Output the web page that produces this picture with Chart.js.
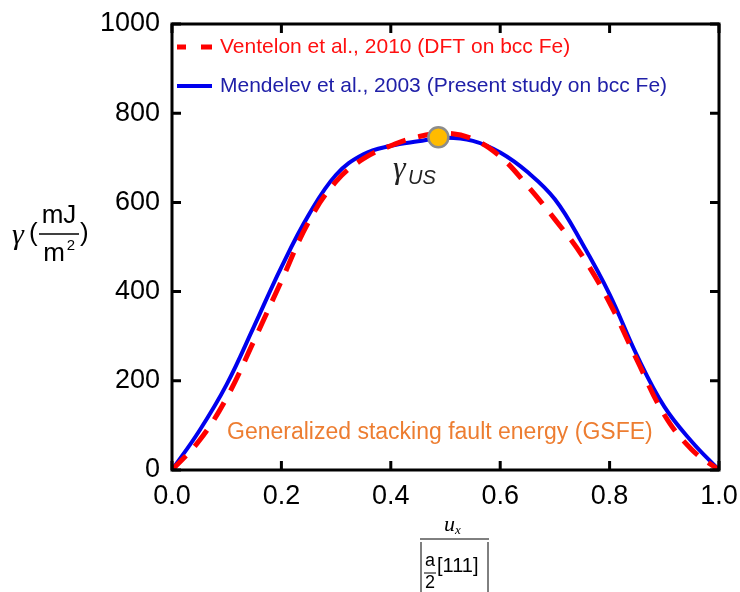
<!DOCTYPE html>
<html>
<head>
<meta charset="utf-8">
<script src="https://cdn.jsdelivr.net/npm/chart.js@4.4.0/dist/chart.umd.min.js"></script>
<style>
  html, body { margin: 0; padding: 0; background: #fff; }
  #wrap { width: 740px; height: 592px; }
</style>
</head>
<body>
<div id="wrap"><canvas id="gsfeChart"></canvas></div>
<script>
// displacement u_x / |a/2[111]|
const disp = [0, 0.05, 0.1, 0.15, 0.2, 0.25, 0.3, 0.35, 0.4, 0.45, 0.5,
              0.55, 0.6, 0.65, 0.7, 0.75, 0.8, 0.85, 0.9, 0.95, 1.0];
// Ventelon et al., 2010 (DFT) - mJ/m^2
const ventelon = [0, 66, 162, 290, 424, 557, 647, 698, 727, 747, 755,
                  742, 703, 637, 562, 480, 375, 247, 124, 46, 0];
// Mendelev et al., 2003 - mJ/m^2
const mendelev = [0, 88, 192, 322, 455, 572, 662, 708, 727, 737, 745,
                  738, 712, 668, 607, 508, 394, 257, 142, 64, 0];
// unstable stacking fault energy point
const usPoint = [{ x: 0.487, y: 746 }];
const xTicks = [0, 0.2, 0.4, 0.6, 0.8, 1.0];
const yTicks = [0, 200, 400, 600, 800, 1000];

const FONT = '"Liberation Sans", Arial, sans-serif';
const SERIF = '"Liberation Serif", "Times New Roman", serif';

function toXY(ys) {
    return disp.map((x, i) => ({ x: x, y: ys[i] }));
}

// frame, inward ticks, legend and labels
const decorPlugin = {
    id: 'decor',
    afterDraw(chart) {
        const ctx = chart.ctx;
        const a = chart.chartArea;
        const xs = chart.scales.x, ys = chart.scales.y;
        ctx.save();
        ctx.strokeStyle = '#000';
        ctx.lineWidth = 3;
        ctx.strokeRect(a.left, a.top, a.right - a.left, a.bottom - a.top);
        ctx.beginPath();
        xTicks.forEach(v => {
            const px = xs.getPixelForValue(v);
            ctx.moveTo(px, a.bottom); ctx.lineTo(px, a.bottom - 9);
            ctx.moveTo(px, a.top); ctx.lineTo(px, a.top + 9);
        });
        yTicks.forEach(v => {
            const py = ys.getPixelForValue(v);
            ctx.moveTo(a.left, py); ctx.lineTo(a.left + 9, py);
            ctx.moveTo(a.right, py); ctx.lineTo(a.right - 9, py);
        });
        ctx.stroke();

        // legend
        ctx.lineCap = 'butt';
        ctx.lineWidth = 5;
        ctx.strokeStyle = '#ff0000';
        ctx.beginPath();
        ctx.moveTo(177, 47); ctx.lineTo(186, 47);
        ctx.moveTo(201, 47); ctx.lineTo(212, 47);
        ctx.stroke();
        ctx.strokeStyle = '#0000ee';
        ctx.lineWidth = 4;
        ctx.beginPath();
        ctx.moveTo(177, 86); ctx.lineTo(212, 86);
        ctx.stroke();
        ctx.font = '21px ' + FONT;
        ctx.textBaseline = 'middle';
        ctx.textAlign = 'left';
        ctx.fillStyle = '#ff1010';
        ctx.fillText(chart.data.datasets[0].label, 220, 47);
        ctx.fillStyle = '#2020a8';
        ctx.fillText(chart.data.datasets[1].label, 220, 86);

        // GSFE note
        ctx.font = '23px ' + FONT;
        ctx.fillStyle = '#ed7d31';
        ctx.fillText('Generalized stacking fault energy (GSFE)', 227, 433);

        // gamma_US label
        ctx.fillStyle = '#222';
        ctx.font = 'italic 32px ' + SERIF;
        ctx.fillText('\u03b3', 393, 170);
        ctx.font = 'italic 20px ' + FONT;
        ctx.fillText('US', 408, 178);

        // y axis label: gamma(mJ / m^2)
        ctx.fillStyle = '#000';
        ctx.font = 'italic 30px ' + SERIF;
        ctx.fillText('\u03b3', 12, 236);
        ctx.font = '26px ' + FONT;
        ctx.fillText('(', 29, 234);
        ctx.fillText(')', 80, 234);
        ctx.textAlign = 'center';
        ctx.fillText('mJ', 59, 216);
        ctx.fillText('m', 54, 254);
        ctx.font = '15px ' + FONT;
        ctx.fillText('2', 71, 246);
        ctx.lineWidth = 1.5;
        ctx.strokeStyle = '#000';
        ctx.beginPath();
        ctx.moveTo(39, 234); ctx.lineTo(79, 234);
        ctx.stroke();

        // x axis label: u_x / |a/2 [111]|
        ctx.font = 'italic 22px ' + SERIF;
        ctx.textAlign = 'left';
        ctx.fillText('u', 444, 525);
        ctx.font = 'italic 13px ' + SERIF;
        ctx.fillText('x', 455, 531);
        ctx.lineWidth = 1;
        ctx.beginPath();
        ctx.moveTo(420, 539); ctx.lineTo(489, 539);
        ctx.moveTo(421, 542); ctx.lineTo(421, 592);
        ctx.moveTo(488, 542); ctx.lineTo(488, 592);
        ctx.moveTo(424, 573); ctx.lineTo(436, 573);
        ctx.stroke();
        ctx.font = '18px ' + FONT;
        ctx.textAlign = 'center';
        ctx.fillText('a', 430, 561);
        ctx.fillText('2', 430, 583);
        ctx.font = '20px ' + FONT;
        ctx.textAlign = 'left';
        ctx.fillText('[111]', 437, 566);
        ctx.restore();
    }
};

document.addEventListener('DOMContentLoaded', function() {
    const ctx = document.getElementById('gsfeChart').getContext('2d');
    new Chart(ctx, {
        type: 'line',
        data: {
            datasets: [{
                label: 'Ventelon et al., 2010 (DFT on bcc Fe)',
                data: toXY(ventelon),
                borderColor: '#ff0000',
                borderWidth: 5,
                borderDash: [20, 13],
                pointRadius: 0,
                tension: 0.4,
                order: 1,
                fill: false
            }, {
                label: 'Mendelev et al., 2003 (Present study on bcc Fe)',
                data: toXY(mendelev),
                borderColor: '#0000ee',
                borderWidth: 4,
                pointRadius: 0,
                tension: 0.4,
                order: 2,
                fill: false
            }, {
                type: 'scatter',
                label: 'US',
                data: usPoint,
                pointRadius: 10,
                pointBackgroundColor: '#ffbb00',
                pointBorderColor: '#8c8c8c',
                pointBorderWidth: 2.5,
                order: 0,
                showLine: false
            }]
        },
        options: {
            responsive: true,
            maintainAspectRatio: false,
            animation: false,
            devicePixelRatio: 1,
            layout: { padding: { top: 24, right: 21, left: 0, bottom: 0 } },
            plugins: {
                legend: { display: false },
                tooltip: { enabled: false }
            },
            scales: {
                x: {
                    type: 'linear',
                    min: 0,
                    max: 1,
                    grid: { display: false },
                    border: { display: false },
                    afterFit: s => { s.height = 122; },
                    afterBuildTicks: s => { s.ticks = xTicks.map(v => ({ value: v })); },
                    ticks: {
                        padding: 2,
                        color: '#000',
                        font: { family: FONT, size: 27 },
                        callback: v => v.toFixed(1)
                    }
                },
                y: {
                    min: 0,
                    max: 1000,
                    grid: { display: false },
                    border: { display: false },
                    afterFit: s => { s.width = 172; },
                    afterBuildTicks: s => { s.ticks = yTicks.map(v => ({ value: v })); },
                    ticks: {
                        padding: 4,
                        color: '#000',
                        font: { family: FONT, size: 27 },
                        callback: v => String(v)
                    }
                }
            }
        },
        plugins: [decorPlugin]
    });
});
</script>
</body>
</html>
